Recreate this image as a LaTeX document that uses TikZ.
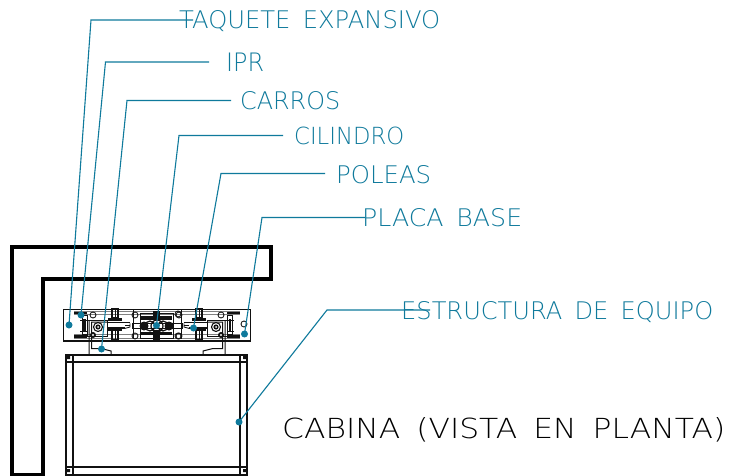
\documentclass[tikz,border=0pt]{standalone}
\usepackage{fontspec}
\usepackage{graphicx}
\setmainfont{DejaVu Sans ExtraLight}[WordSpace=1.6]
\definecolor{leader}{HTML}{0F7A9C}
\definecolor{steel}{HTML}{111111}
\newcommand\fittext[3]{\resizebox{#1pt}{#2pt}{#3}}
\newcommand\halfmech{%
  % rail ends
  \fill[steel] (74,311.5) rectangle (87,315);
  \fill[steel] (74,334) rectangle (87,338);
  \draw[ln,gray,line width=1pt] (74,311)--(157,311) (74,314.5)--(157,314.5) (74,334.5)--(157,334.5) (74,338)--(157,338);
  % guide block
  \draw[ln] (82,315) rectangle (87,334);
  \fill[steel] (83,319) rectangle (85.5,331);
  \draw[ln] (87,320) rectangle (107,336);
  \draw[ln] (80,320)--(87,320) (80,331)--(87,331);
  % roller
  \draw[ln,line width=1.1pt] (98,327) circle (4.5);
  \fill[steel] (98,327) circle (2.6);
  \fill[white] (98,327) circle (1);
  % pulley bar
  \fill[steel] (107,321.6) rectangle (130,323.4);
  \fill[steel] (107,327) rectangle (125,328.8);
  \draw[ln] (125,328.4)--(130,327)--(130,323.4);
  \draw[ln] (125,325)--(130,325);
  % pulley
  \draw[ln,line width=1.1pt] (112,309) rectangle (118,318);
  \draw[ln,line width=1.1pt] (112,330) rectangle (118,340);
  \draw[ln] (115,309)--(115,318) (115,330)--(115,340);
  \fill[steel] (108,318) rectangle (122,321);
  \fill[steel] (108,328.4) rectangle (122,330.5);
  % bracket
  \draw[ln,line width=1pt] (89,320)--(89,354.5)--(111,354.5)--(111,351)--(101,348.5)--(91.5,348.5)--(91.5,322)--(107,322);
  % bolts
  \draw[ln] (93,315) circle (3) (135,315) circle (3) (135,336) circle (3);
  \fill[steel] (93,335) circle (3);
  \fill[white] (93,335) circle (1.2);
  \draw[ln] (133,310)--(133,339);
}
\tikzset{
  x=1pt,y=-1pt,
  ln/.style={draw=steel,line width=.85pt},
  wall/.style={draw=black,line width=4pt,line join=miter},
  cab/.style={draw=steel,line width=1.5pt},
  lead/.style={draw=leader,line width=1.1pt},
  pin/.style={circle,fill=leader,inner sep=0pt,minimum size=7pt},
  lbl/.style={anchor=base west,inner sep=0pt,text=leader},
  ttl/.style={anchor=base west,inner sep=0pt,text=black},
}
\begin{document}
\begin{tikzpicture}
\useasboundingbox (0,0) rectangle (729,476);
\fill[white] (0,0) rectangle (729,476);
% wall
\draw[wall] (12,477)--(12,247.5)--(270.5,247.5)--(270.5,279)--(42.5,279)--(42.5,474.5)--(12,474.5);
% plate
\draw[ln,line width=1.1pt] (63.5,309.5) rectangle (250.5,341);
% mechanism
\halfmech
\begin{scope}[xshift=314pt,xscale=-1]\halfmech\end{scope}
% centre cylinder
\draw[ln] (140,313) rectangle (173,338);
\draw[ln] (132,323) rectangle (182,328.5);
\fill[steel] (141,316) rectangle (172,319.5);
\fill[steel] (141,331.5) rectangle (172,335);
\fill[steel] (153,311) rectangle (160,318);
\fill[steel] (153,330) rectangle (160,341);
\fill[steel] (144,326) circle (4.5) (169,326) circle (4.5);
\draw[ln,line width=1.2pt] (150,326) circle (5) (163,326) circle (5);
\draw[ln,line width=1.2pt] (157,326) circle (6);
\draw[ln] (178,314) circle (3) (178,336) circle (3);
\draw[ln] (244,324) circle (3);
% cabin
\draw[cab,line width=2pt] (65,354.5)--(248,354.5);
\draw[cab] (65,362)--(248,362);
\draw[cab] (65,467)--(248,467);
\draw[cab,line width=2pt] (65,474.5)--(248,474.5);
\draw[cab] (66,354.5)--(66,476) (73,354.5)--(73,476) (240,354.5)--(240,476) (247,354.5)--(247,476);
\draw[cab,line width=2.2pt] (66,425)--(66,476) (73,425)--(73,476) (240,425)--(240,476) (247,425)--(247,476);
\fill[steel] (67,356) rectangle (70,359) (243,356) rectangle (246,359) (67,469) rectangle (70,472) (243,469) rectangle (246,472);
% labels
\node[lbl] (t1) at (179,29) {\fittext{261}{18}{TAQUETE EXPANSIVO}};
\node[lbl] (t2) at (226,72) {\fittext{38}{18.5}{IPR}};
\node[lbl] (t3) at (240,110) {\fittext{100}{18}{CARROS}};
\node[lbl] (t4) at (294,144.5) {\fittext{110}{17.5}{CILINDRO}};
\node[lbl] (t5) at (336,183) {\fittext{95}{18}{POLEAS}};
\node[lbl] (t6) at (362,226) {\fittext{160}{18}{PLACA BASE}};
\node[lbl] (t7) at (401,319) {\fittext{312}{18}{ESTRUCTURA DE EQUIPO}};
\node[ttl] (t8) at (282,438.5) {\fittext{443}{21}{CABINA (VISTA EN PLANTA)}};
% pins
\node[pin] (p1) at (69,325) {};
\node[pin] (p2) at (81,315) {};
\node[pin] (p3) at (101.5,349) {};
\node[pin] (p4) at (156.5,325.5) {};
\node[pin] (p5) at (193.5,328) {};
\node[pin] (p6) at (244.5,334) {};
\node[pin] (p7) at (239,422) {};
% leader ends and elbows
\coordinate (e1) at (91,20); \coordinate (s1) at (193,20);
\coordinate (e2) at (105.5,62); \coordinate (s2) at (209,62);
\coordinate (e3) at (127,100.5); \coordinate (s3) at (231,100.5);
\coordinate (e4) at (179,135.5); \coordinate (s4) at (283,135.5);
\coordinate (e5) at (221,173.5); \coordinate (s5) at (325,173.5);
\coordinate (e6) at (262,217.5); \coordinate (s6) at (365,217.5);
\coordinate (e7) at (327,310); \coordinate (s7) at (430,310);
\foreach \i in {1,...,7}{\draw[lead] (p\i.center)--(e\i)--(s\i);}
\end{tikzpicture}
\end{document}
